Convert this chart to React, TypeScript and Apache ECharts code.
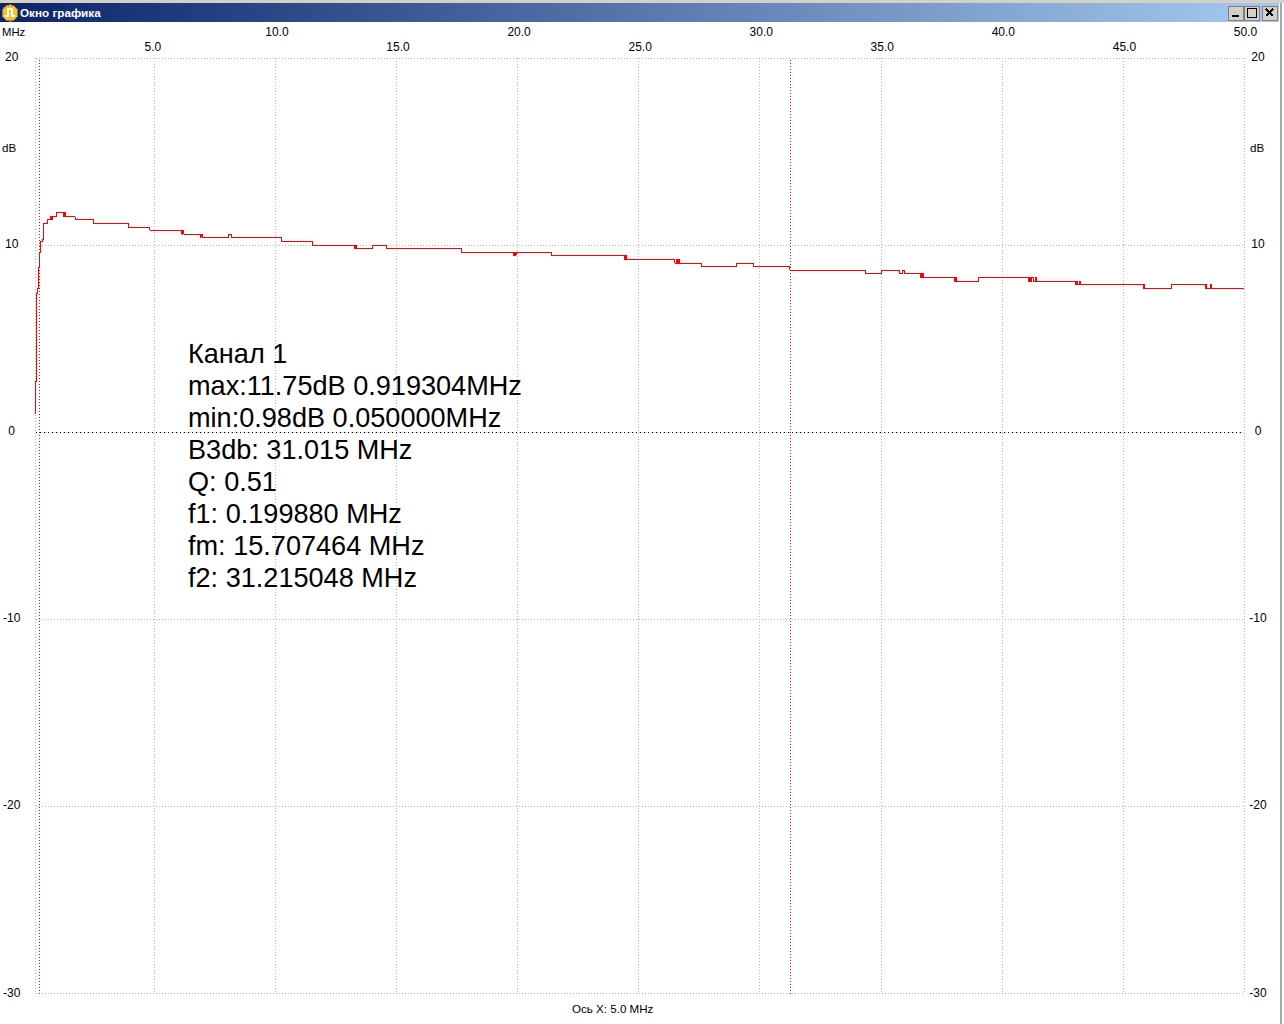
import React, { useEffect, useRef } from "react";
import * as echarts from "echarts";

const frequencies = [
  0.09, 0.09, 0.13, 0.17, 0.23, 0.256, 0.31, 0.38, 0.42, 0.6, 0.7, 0.74, 0.78, 0.97, 1.25, 1.29, 1.33, 1.73, 2.48,
  3.93, 4.82, 6.13, 6.17, 6.21, 6.89, 6.93, 6.97, 8.05, 8.19, 10.26, 11.52, 13.28, 13.32, 13.36, 14.03, 14.59, 17.68,
  19.82, 19.86, 19.9, 19.94, 21.39, 24.42, 24.46, 24.5, 26.5, 26.55, 26.6, 26.65, 26.7, 27.58, 29.03, 29.75, 31.25,
  34.35, 35.03, 35.76, 35.9, 35.98, 36.62, 36.66, 36.7, 36.74, 36.78, 38.03, 38.1, 38.14, 39.04, 41.1, 41.14, 41.18,
  41.22, 41.3, 41.4, 41.44, 43.03, 43.07, 43.11, 43.2, 43.24, 45.83, 45.87, 45.91, 47.0, 48.39, 48.43, 48.47, 48.6,
  48.66, 50.0,
];
const levels = [
  0.98, 2.7, 7.4, 7.7, 8.5, 9.6, 10.2, 10.3, 11.16, 11.37, 11.52, 11.37, 11.52, 11.75, 11.52, 11.75, 11.52, 11.37,
  11.16, 10.95, 10.8, 10.59, 10.8, 10.59, 10.41, 10.59, 10.41, 10.59, 10.41, 10.2, 9.98, 9.82, 9.98, 9.82, 9.98, 9.82,
  9.61, 9.45, 9.61, 9.45, 9.61, 9.45, 9.24, 9.45, 9.24, 9.02, 9.24, 9.02, 9.24, 9.02, 8.86, 9.02, 8.86, 8.65, 8.49,
  8.65, 8.49, 8.65, 8.49, 8.27, 8.49, 8.27, 8.49, 8.27, 8.06, 8.27, 8.06, 8.27, 8.06, 8.27, 8.06, 8.27, 8.06, 8.27,
  8.06, 7.9, 8.06, 7.9, 8.06, 7.9, 7.68, 7.9, 7.68, 7.9, 7.68, 7.9, 7.68, 7.9, 7.68, 7.68,
];
const gridTicks = [0.1, 5, 10, 15, 20, 25, 30, 35, 40, 45, 50];
const evenTicks = [10, 20, 30, 40, 50];
const oddTicks = [15, 25, 35, 45];
const firstTick = [5];
const cursorFrequencies = [0.256, 31.27];
const statLines = [
  "Канал 1",
  "max:11.75dB 0.919304MHz",
  "min:0.98dB 0.050000MHz",
  "B3db: 31.015 MHz",
  "Q: 0.51",
  "f1: 0.199880 MHz",
  "fm: 15.707464 MHz",
  "f2: 31.215048 MHz",
];
const FONT = "'Liberation Sans', Arial, sans-serif";

export default function App() {
  const ref = useRef<HTMLDivElement>(null);
  useEffect(() => {
    const chart = echarts.init(ref.current!, undefined, { renderer: "svg" });
    const xBase = {
      type: "value",
      min: 0.1,
      max: 50,
      position: "top",
      axisLine: { show: false },
    };
    const tickLabel = { color: "#000", fontSize: 12, fontFamily: FONT, formatter: (v: number) => v.toFixed(1) };
    const labelAxis = (ticks: number[], margin: number, padding: number[]) => ({
      ...xBase,
      axisTick: { show: false, customValues: ticks },
      axisLabel: { ...tickLabel, show: true, customValues: ticks, margin, padding },
      splitLine: { show: false },
    });
    const yAxisBase = {
      type: "value",
      min: -30,
      max: 20,
      interval: 10,
      axisLine: { show: false },
      axisTick: { show: false },
    };
    const yLabel = {
      color: "#000",
      fontSize: 12,
      lineHeight: 14,
      fontFamily: FONT,
      align: "center",
      verticalAlign: "bottom",
      padding: [0, 0, -6, 0],
      showMinLabel: true,
      showMaxLabel: true,
    };
    chart.setOption({
      animation: false,
      backgroundColor: "#ffffff",
      grid: { left: 34, right: 40, top: 58, bottom: 30.5, containLabel: false },
      xAxis: [
        {
          ...xBase,
          axisTick: { show: false, customValues: gridTicks },
          axisLabel: { show: false, customValues: gridTicks },
          splitLine: { show: true, showMinLine: true, lineStyle: { color: "#b8b8b8", type: [1, 2], width: 1 } },
        },
        labelAxis(evenTicks, 20, [0, 0, 0, 3]),
        labelAxis(oddTicks, 5, [0, 0, 0, 3]),
        labelAxis(firstTick, 5, [0, 3, 0, 0]),
      ],
      yAxis: [
        {
          ...yAxisBase,
          position: "left",
          axisLabel: { ...yLabel, margin: 24 },
          splitLine: { show: true, lineStyle: { color: "#b8b8b8", type: [1, 2], width: 1 } },
        },
        {
          ...yAxisBase,
          position: "right",
          axisLabel: { ...yLabel, margin: 14 },
          splitLine: { show: false },
        },
      ],
      series: [
        {
          type: "line",
          step: "end",
          xAxisIndex: 0,
          yAxisIndex: 0,
          showSymbol: false,
          symbol: "none",
          silent: true,
          data: frequencies.map((f, i) => [f, levels[i]]),
          lineStyle: { color: "#ff0000", width: 1 },
          itemStyle: { color: "#ff0000" },
          z: 5,
          markLine: {
            silent: true,
            symbol: "none",
            label: { show: false },
            lineStyle: { color: "#ff0000", type: [1, 2], width: 1 },
            data: cursorFrequencies.map((f) => ({ xAxis: f, lineStyle: { color: "#ff0000", type: [1, 2], width: 1 } })),
          },
        },
        {
          type: "line",
          xAxisIndex: 0,
          yAxisIndex: 0,
          silent: true,
          data: [],
          z: 1,
          markLine: {
            silent: true,
            symbol: "none",
            label: { show: false },
            lineStyle: { color: "#000000", type: [1, 3], width: 1 },
            data: [{ yAxis: 0 }],
          },
        },
      ],
      graphic: [
        { type: "rect", silent: true, shape: { x: 0, y: 0, width: 1284, height: 3 }, style: { fill: "#d4d0c8" } },
        {
          type: "rect",
          silent: true,
          shape: { x: 0, y: 3, width: 1279, height: 19 },
          style: {
            fill: new echarts.graphic.LinearGradient(0, 0, 1, 0, [
              { offset: 0, color: "#0a246a" },
              { offset: 1, color: "#a6caf0" },
            ]),
          },
        },
        { type: "rect", silent: true, shape: { x: 1280, y: 3, width: 2, height: 1021 }, style: { fill: "#a8a8a8" } },
        { type: "circle", silent: true, shape: { cx: 10, cy: 13, r: 8 }, style: { fill: "#f4c430", stroke: "#a87a10", lineWidth: 1 } },
        { type: "polyline", silent: true, shape: { points: [[5, 16], [8, 16], [8, 9], [12, 9], [12, 16], [15, 16]] }, style: { stroke: "#ffffff", fill: "none", lineWidth: 1.4 } },
        { type: "text", silent: true, style: { x: 20, y: 12, text: "Окно графика", fill: "#ffffff", font: `bold 11.7px ${FONT}`, textVerticalAlign: "middle" } },
        ...[1228, 1244, 1262].map((bx) => ({ type: "rect", silent: true, shape: { x: bx, y: 6, width: 15, height: 14 }, style: { fill: "#d4d0c8", stroke: "#808080", lineWidth: 1 } })),
        { type: "rect", silent: true, shape: { x: 1232, y: 15, width: 7, height: 2 }, style: { fill: "#000" } },
        { type: "rect", silent: true, shape: { x: 1247, y: 8.5, width: 9, height: 9 }, style: { fill: "none", stroke: "#000", lineWidth: 1 } },
        { type: "line", silent: true, shape: { x1: 1266, y1: 9, x2: 1273, y2: 16 }, style: { stroke: "#000", lineWidth: 1.5 } },
        { type: "line", silent: true, shape: { x1: 1273, y1: 9, x2: 1266, y2: 16 }, style: { stroke: "#000", lineWidth: 1.5 } },
        { type: "text", silent: true, style: { x: 2, y: 32, text: "MHz", fill: "#000", font: `11.3px ${FONT}`, textVerticalAlign: "middle" } },
        { type: "text", silent: true, style: { x: 2, y: 147, text: "dB", fill: "#000", font: `11.6px ${FONT}`, textVerticalAlign: "middle" } },
        { type: "text", silent: true, style: { x: 1250, y: 147, text: "dB", fill: "#000", font: `11.6px ${FONT}`, textVerticalAlign: "middle" } },
        { type: "text", silent: true, style: { x: 572, y: 1008, text: "Ось X: 5.0 MHz", fill: "#000", font: `11.6px ${FONT}`, textVerticalAlign: "middle" } },
        ...statLines.map((line, i) => ({
          type: "text",
          silent: true,
          z: 10,
          style: { x: 188, y: 353 + i * 32, text: line, fill: "#000", font: `27.1px ${FONT}`, textVerticalAlign: "middle" },
        })),
      ],
    });
    return () => chart.dispose();
  }, []);
  return (
    <>
      <style>{`html,body{margin:0;padding:0;overflow:hidden;background:#fff} svg path{shape-rendering:crispEdges}`}</style>
      <div ref={ref} style={{ position: "fixed", left: 0, top: 0, width: 1284, height: 1024 }} />
    </>
  );
}
